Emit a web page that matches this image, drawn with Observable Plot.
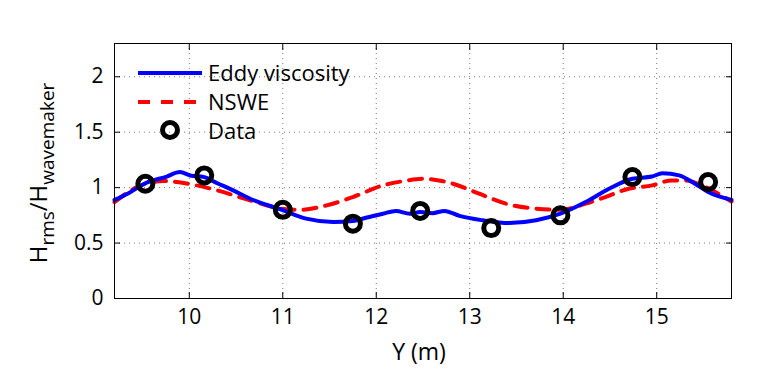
<!DOCTYPE html>
<html><head><meta charset="utf-8">
<script src="https://cdn.jsdelivr.net/npm/d3@7"></script>
<script src="https://cdn.jsdelivr.net/npm/@observablehq/plot@0.6"></script>
<style>body{margin:0;background:#fff}</style>
</head><body>
<script>
// Measured data points (circles)
const dataY = [9.53, 10.16, 11.0, 11.75, 12.47, 13.23, 13.97, 14.74, 15.55];
const dataH = [1.035, 1.11, 0.80, 0.675, 0.79, 0.635, 0.75, 1.095, 1.05];

// Eddy viscosity model curve
const eddyY = [9.2, 9.35, 9.53, 9.76, 9.9, 10.01, 10.16, 10.3, 10.47, 10.65, 10.99, 11.25, 11.54, 11.75, 11.9, 12.07, 12.21, 12.36, 12.47, 12.6, 12.73, 12.89, 13.14, 13.42, 13.71, 13.97, 14.24, 14.49, 14.74, 14.95, 15.06, 15.24, 15.41, 15.55, 15.8];
const eddyH = [0.89, 0.95, 1.04, 1.10, 1.14, 1.11, 1.095, 1.04, 0.975, 0.90, 0.80, 0.72, 0.69, 0.70, 0.73, 0.765, 0.79, 0.765, 0.78, 0.77, 0.79, 0.745, 0.705, 0.68, 0.705, 0.765, 0.87, 0.99, 1.08, 1.10, 1.13, 1.11, 1.035, 0.96, 0.89];

// NSWE model curve
const nsweY = [9.2, 9.48, 9.73, 9.87, 10.08, 10.3, 10.65, 10.99, 11.18, 11.47, 11.75, 12.07, 12.3, 12.5, 12.7, 12.82, 13.1, 13.39, 13.71, 13.97, 14.24, 14.45, 14.7, 14.95, 15.16, 15.31, 15.52, 15.8];
const nsweH = [0.87, 1.02, 1.06, 1.05, 1.02, 0.975, 0.885, 0.81, 0.80, 0.84, 0.915, 1.02, 1.06, 1.08, 1.06, 1.035, 0.945, 0.855, 0.81, 0.80, 0.855, 0.915, 0.99, 1.02, 1.065, 1.065, 1.005, 0.875];

const xTicks = [10, 11, 12, 13, 14, 15];
const yTicks = [0, 0.5, 1, 1.5, 2];
const yTickLabels = ["0", "0.5", "1", "1.5", "2"];
const seriesNames = ["Eddy viscosity", "NSWE", "Data"];

const eddy = eddyY.map((y, i) => ({y, h: eddyH[i]}));
const nswe = nsweY.map((y, i) => ({y, h: nsweH[i]}));
const pts = dataY.map((y, i) => ({y, h: dataH[i]}));

const FONT = "Open Sans";
const grid = {stroke: "#777", strokeOpacity: 1, strokeDasharray: "1,4", strokeWidth: 1};

const chart = Plot.plot({
  width: 766, height: 370,
  marginLeft: 114, marginRight: 35, marginTop: 43, marginBottom: 72,
  style: {fontFamily: FONT, fontSize: "21px", color: "#000", background: "#fff"},
  x: {domain: [9.2, 15.8]},
  y: {domain: [0, 2.3]},
  marks: [
    Plot.gridX(xTicks, grid),
    Plot.gridY(yTicks, grid),
    Plot.axisX({ticks: xTicks, tickSize: 0, tickPadding: 11, tickFormat: d => String(d), label: null}),
    Plot.axisY({ticks: yTicks, tickSize: 0, tickPadding: 11, tickFormat: d => yTickLabels[yTicks.indexOf(d)], label: null}),
    Plot.axisX({ticks: xTicks, anchor: "bottom", tickSize: -6, tickFormat: () => "", label: null}),
    Plot.axisX({ticks: xTicks, anchor: "top", tickSize: -6, tickFormat: () => "", label: null}),
    Plot.axisY({ticks: yTicks, anchor: "left", tickSize: -6, tickFormat: () => "", label: null}),
    Plot.axisY({ticks: yTicks, anchor: "right", tickSize: -6, tickFormat: () => "", label: null}),
    Plot.line(nswe, {x: "y", y: "h", stroke: "#ff0000", strokeWidth: 4, strokeDasharray: "13,9", curve: "monotone-x"}),
    Plot.line(eddy, {x: "y", y: "h", stroke: "#0000ff", strokeWidth: 4, curve: "monotone-x"}),
    Plot.dot(pts, {x: "y", y: "h", r: 7.5, stroke: "#000", strokeWidth: 5, fill: "none"}),
    Plot.frame({stroke: "#000", strokeWidth: 1})
  ]
});
document.body.appendChild(chart);

const svg = d3.select(chart);
// Enlarge the tick labels drawn by Plot's axes
svg.selectAll("text").style("font-size", "21px").style("font-family", FONT);

// Y axis label with subscripts
const yl = svg.append("text")
  .attr("transform", "translate(47,173) rotate(-90)")
  .style("text-anchor", "middle")
  .style("font-family", FONT)
  .attr("fill", "#000");
yl.append("tspan").style("font-size", "24px").text("H");
yl.append("tspan").style("font-size", "19px").attr("dy", 7).text("rms");
yl.append("tspan").style("font-size", "24px").attr("dy", -7).text("/H");
yl.append("tspan").style("font-size", "19px").attr("dy", 7).text("wavemaker");

// X axis label
svg.append("text")
  .attr("x", 419).attr("y", 360)
  .style("text-anchor", "middle")
  .style("font-family", FONT).style("font-size", "23px")
  .attr("fill", "#000")
  .text("Y (m)");

// Legend
const lg = svg.append("g").style("font-family", FONT).style("font-size", "22px").style("text-anchor", "start").attr("fill", "#000");
const rows = [73, 102, 130];
const baselines = [81, 110, 139];
lg.append("line").attr("x1", 138).attr("x2", 202).attr("y1", rows[0]).attr("y2", rows[0])
  .attr("stroke", "#0000ff").attr("stroke-width", 4);
lg.append("line").attr("x1", 138).attr("x2", 202).attr("y1", rows[1]).attr("y2", rows[1])
  .attr("stroke", "#ff0000").attr("stroke-width", 4).attr("stroke-dasharray", "12,11");
lg.append("circle").attr("cx", 170).attr("cy", rows[2]).attr("r", 7.5)
  .attr("fill", "none").attr("stroke", "#000").attr("stroke-width", 5);
seriesNames.forEach((s, i) => {
  lg.append("text").attr("x", 208).attr("y", baselines[i]).style("text-anchor", "start").text(s);
});
</script>
</body></html>
